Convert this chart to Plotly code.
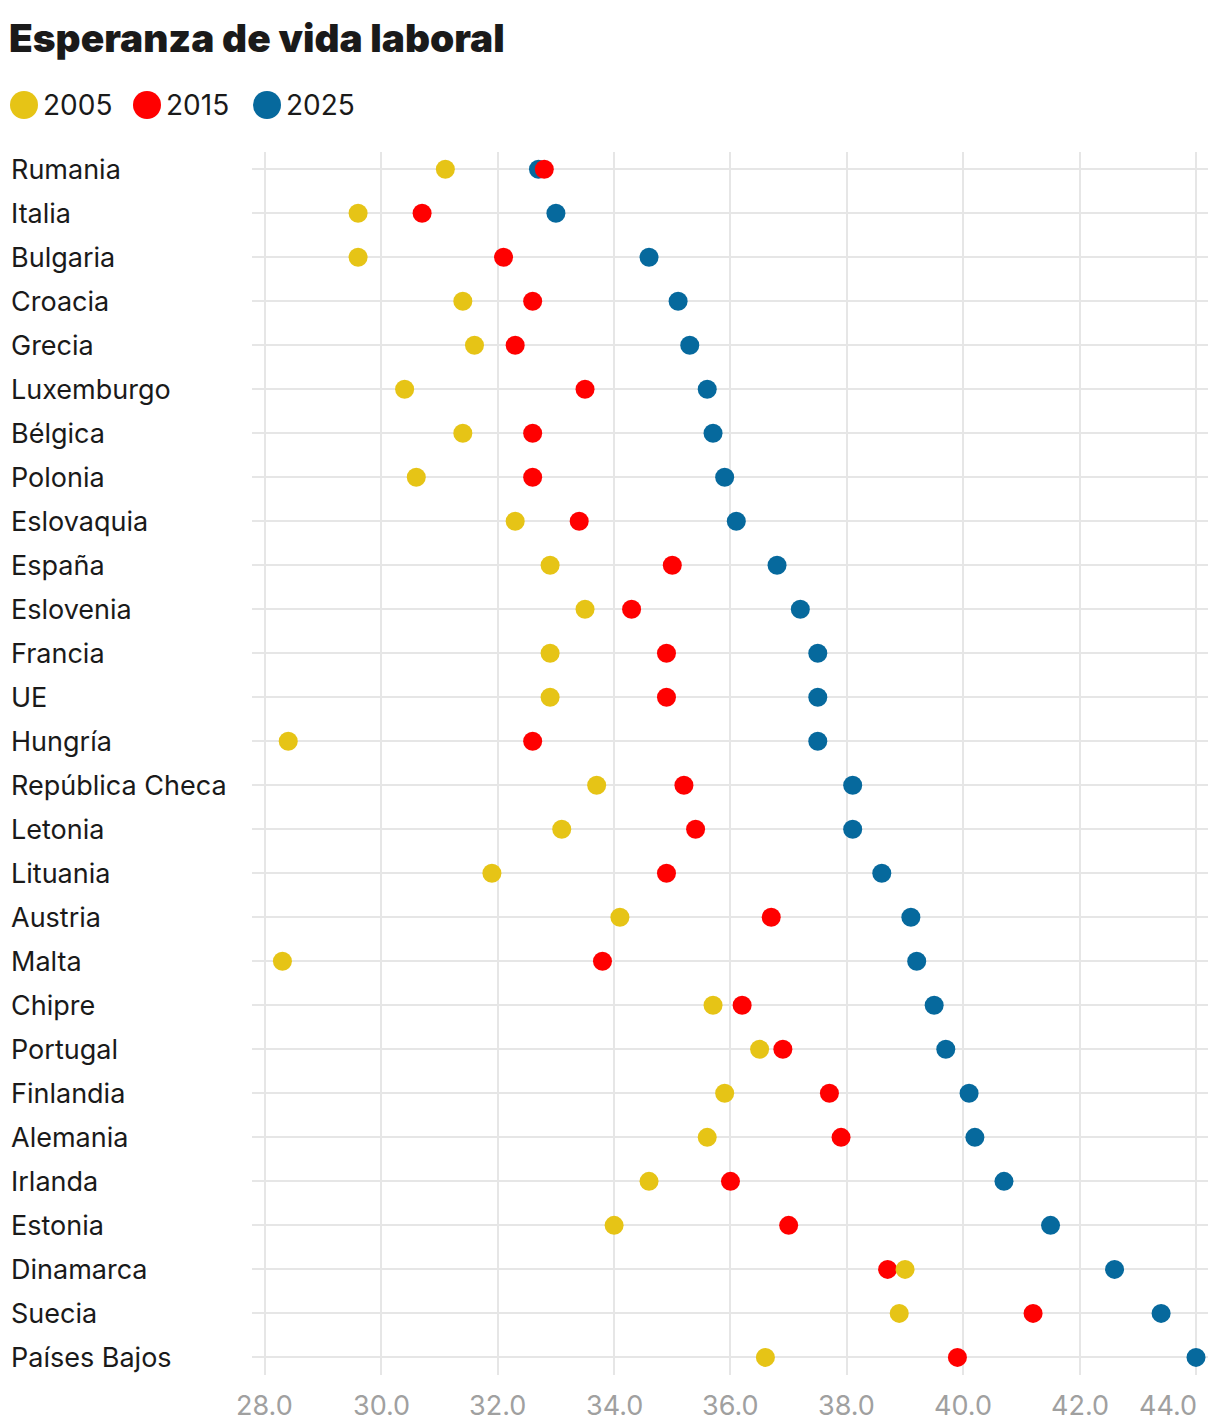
import plotly.graph_objects as go

countries = ["Rumania", "Italia", "Bulgaria", "Croacia", "Grecia", "Luxemburgo", "Bélgica",
             "Polonia", "Eslovaquia", "España", "Eslovenia", "Francia", "UE", "Hungría",
             "República Checa", "Letonia", "Lituania", "Austria", "Malta", "Chipre", "Portugal",
             "Finlandia", "Alemania", "Irlanda", "Estonia", "Dinamarca", "Suecia", "Países Bajos"]

v2005 = [31.1, 29.6, 29.6, 31.4, 31.6, 30.4, 31.4, 30.6, 32.3, 32.9, 33.5, 32.9, 32.9, 28.4,
         33.7, 33.1, 31.9, 34.1, 28.3, 35.7, 36.5, 35.9, 35.6, 34.6, 34.0, 39.0, 38.9, 36.6]
v2015 = [32.8, 30.7, 32.1, 32.6, 32.3, 33.5, 32.6, 32.6, 33.4, 35.0, 34.3, 34.9, 34.9, 32.6,
         35.2, 35.4, 34.9, 36.7, 33.8, 36.2, 36.9, 37.7, 37.9, 36.0, 37.0, 38.7, 41.2, 39.9]
v2025 = [32.7, 33.0, 34.6, 35.1, 35.3, 35.6, 35.7, 35.9, 36.1, 36.8, 37.2, 37.5, 37.5, 37.5,
         38.1, 38.1, 38.6, 39.1, 39.2, 39.5, 39.7, 40.1, 40.2, 40.7, 41.5, 42.6, 43.4, 44.0]

years = ["2005", "2015", "2025"]
colors = {"2005": "#E6C416", "2015": "#FF0000", "2025": "#06699D"}
x_ticks = [28.0, 30.0, 32.0, 34.0, 36.0, 38.0, 40.0, 42.0, 44.0]

FONT = "Inter"
series = {"2005": v2005, "2015": v2015, "2025": v2025}

fig = go.Figure()
for yr in ["2025", "2015", "2005"]:
    fig.add_trace(go.Scatter(
        x=series[yr], y=list(range(len(countries))), mode="markers", name=yr,
        marker=dict(size=19, color=colors[yr], line=dict(width=0)),
        showlegend=False, hovertext=countries,
    ))

X0, X1 = 27.777, 44.206
fig.update_layout(
    width=1220, height=1426,
    margin=dict(l=252, r=12, t=152, b=51),
    paper_bgcolor="white", plot_bgcolor="white",
    font=dict(family=FONT, color="#1a1a1a"),
    title=dict(text="Esperanza de vida laboral", x=9 / 1220, xanchor="left",
               xref="container", y=1 - 38 / 1426, yref="container", yanchor="middle",
               font=dict(family=FONT, size=38.8, weight=900, color="#1a1a1a")),
    xaxis=dict(range=[X0, X1], tickvals=x_ticks, showticklabels=False,
               showgrid=True, gridcolor="#e6e6e6", gridwidth=2, zeroline=False,
               showline=False, fixedrange=True),
    yaxis=dict(range=[27.4, -0.39], tickvals=list(range(len(countries))), showticklabels=False,
               showgrid=True, gridcolor="#e6e6e6", gridwidth=2, zeroline=False,
               showline=False, fixedrange=True),
    showlegend=False,
)

plot_w = 1220 - 252 - 12
plot_h = 1426 - 152 - 51

# country labels
for i, c in enumerate(countries):
    fig.add_annotation(text=c, x=(9 - 252) / plot_w, xref="paper", y=i, yref="y",
                       xanchor="left", yanchor="middle", showarrow=False,
                       font=dict(family=FONT, size=27, color="#1a1a1a"))

# x tick labels
for t in x_ticks:
    last = t == x_ticks[-1]
    fig.add_annotation(text=f"{t:.1f}", x=t, xref="x", y=-(1405 - 1375) / plot_h, yref="paper",
                       xanchor="right" if last else "center", yanchor="middle", showarrow=False,
                       xshift=3 if last else 0,
                       font=dict(family=FONT, size=27, color="#a0a0a0"))

# manual legend
legend_x = [24, 147, 267]
for yr, lx in zip(years, legend_x):
    fig.add_shape(type="circle", xref="paper", yref="paper",
                  xsizemode="pixel", ysizemode="pixel",
                  xanchor=(lx - 252) / plot_w, yanchor=1 + (152 - 105) / plot_h,
                  x0=-14, x1=14, y0=-14, y1=14,
                  fillcolor=colors[yr], line=dict(width=0))
    fig.add_annotation(text=yr, x=(lx + 17 - 252) / plot_w, xref="paper",
                       y=1 + (152 - 105) / plot_h, yref="paper",
                       xanchor="left", yanchor="middle", showarrow=False,
                       font=dict(family=FONT, size=28, color="#1a1a1a"))

fig.write_html("out.html")
